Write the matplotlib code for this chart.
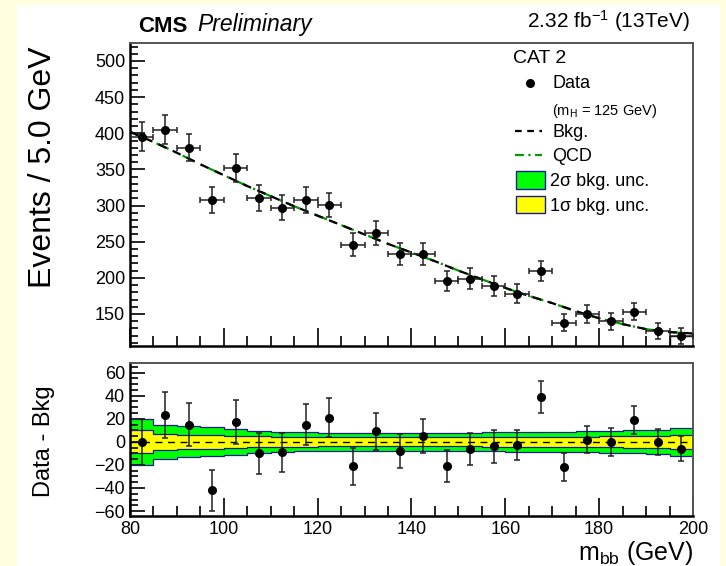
import numpy as np
import matplotlib.pyplot as plt
from matplotlib.patches import Rectangle
from matplotlib.lines import Line2D
from matplotlib.ticker import MultipleLocator

plt.rcParams['font.family'] = ['Liberation Sans', 'DejaVu Sans']
plt.rcParams['mathtext.fontset'] = 'custom'
plt.rcParams['mathtext.rm'] = 'Liberation Sans'
plt.rcParams['mathtext.it'] = 'Liberation Sans:italic'

# m_bb binning (5 GeV bins)
mbb_edges = [80, 85, 90, 95, 100, 105, 110, 115, 120, 125, 130, 135, 140,
             145, 150, 155, 160, 165, 170, 175, 180, 185, 190, 195, 200]

# observed events per bin and their uncertainties
events = [395, 405, 380, 308, 352, 310, 297, 308, 301, 246, 262, 233, 233,
          196, 199, 189, 178, 209, 138, 150, 140, 153, 127, 119]
events_err = [20, 20, 19, 18, 19, 18, 17, 18, 17, 16, 16, 15, 15,
              14, 14, 14, 13, 14, 12, 12, 12, 12, 11, 11]

# background fit evaluated at the bin edges
bkg_fit = [402, 388, 373, 357, 342, 327, 313, 299, 286, 273, 260, 247, 235,
           223, 210, 198, 186, 175, 165, 154, 144, 136, 129, 125, 123]

# data minus background
resid = [0, 23, 15, -42, 17, -10, -9, 15, 21, -21, 9, -8, 5,
         -21, -6, -4, -3, 39, -22, 2, 0, 19, 0, -6]

# background uncertainty bands per bin
unc_1sig = [10, 7.0, 6.3, 5.8, 5.2, 4.7, 4.4, 4.2, 4.0, 3.9, 3.9, 3.9, 3.9,
            4.0, 4.0, 4.1, 4.2, 4.3, 4.4, 4.6, 4.8, 5.0, 5.2, 6.0]
unc_2sig = [20, 15, 13.5, 12.5, 11, 9.7, 8.8, 8.3, 8.0, 7.8, 7.7, 7.7, 7.8,
            7.9, 8.0, 8.2, 8.4, 8.6, 8.8, 9.2, 9.6, 10.0, 10.4, 12.0]

W, H = 726, 566


def fx(px):
    return px / W


def fy(py):
    return 1 - py / H


edges = np.array(mbb_edges, dtype=float)
centers = 0.5 * (edges[:-1] + edges[1:])
halfw = 0.5 * (edges[1:] - edges[:-1])

fig = plt.figure(figsize=(W / 100, H / 100), dpi=100, facecolor='#ffffe0')
fig.add_artist(Rectangle((fx(17), 0), (720 - 17) / W, 561 / H,
                         transform=fig.transFigure, facecolor='white',
                         edgecolor='none', zorder=-5))

ax1 = fig.add_axes([fx(130), fy(346), (693 - 130) / W, (346 - 43) / H])
ax2 = fig.add_axes([fx(130), fy(516), (693 - 130) / W, (516 - 363) / H])


def style_axes(ax, xmaj, xmin, ymaj, ymin):
    ax.xaxis.set_major_locator(MultipleLocator(xmaj))
    ax.xaxis.set_minor_locator(MultipleLocator(xmin))
    ax.yaxis.set_major_locator(MultipleLocator(ymaj))
    ax.yaxis.set_minor_locator(MultipleLocator(ymin))
    ax.tick_params(which='both', direction='in', top=False, right=False,
                   labelsize=13, width=1.2, color='black')
    ax.tick_params(which='major', length=11)
    ax.tick_params(which='minor', length=5.5)
    ax.tick_params(axis='x', which='major', length=13)
    ax.tick_params(axis='x', which='minor', length=7)
    for side in ('left', 'bottom'):
        ax.spines[side].set_linewidth(1.8)
        ax.spines[side].set_color('black')
    for side in ('top', 'right'):
        ax.spines[side].set_linewidth(1.4)
        ax.spines[side].set_color('#555555')


# upper panel: data and background fit
style_axes(ax1, 20, 5, 50, 10)
ax1.set_xlim(80, 200)
ax1.set_ylim(105.7, 524.9)
ax1.tick_params(axis='x', labelbottom=False)
ax1.plot(edges, bkg_fit, color='#009900', lw=1.6, ls=(0, (6, 3, 1, 3)))
ax1.plot(edges, bkg_fit, color='black', lw=1.6, ls=(0, (4, 3)))
ax1.errorbar(centers, events, xerr=halfw, yerr=events_err, fmt='o',
             ms=5.5, color='black', ecolor='#222222', elinewidth=1.1,
             capsize=2, capthick=1.1, zorder=5)
ax1.plot([edges[-2], edges[-2], edges[-1]], [105.7, events[-1], events[-1]],
         color='black', lw=1.0)

# lower panel: residuals with uncertainty bands
style_axes(ax2, 20, 5, 20, 5)
ax2.set_xlim(80, 200)
ax2.set_ylim(-64.3, 68.3)
s1 = np.append(unc_1sig, unc_1sig[-1])
s2 = np.append(unc_2sig, unc_2sig[-1])
ax2.fill_between(edges, -s2, s2, step='post', color='#00ff00', lw=0)
ax2.fill_between(edges, -s1, s1, step='post', color='#ffff00', lw=0)
for band in (s2, -s2, s1, -s1):
    ax2.step(edges, band, where='post', color='#1a1aa0', lw=0.9)
ax2.axhline(0, color='black', lw=1.0, ls=(0, (5, 4)))
ax2.errorbar(centers, resid, yerr=events_err, fmt='o', ms=5.5,
             color='black', ecolor='#222222', elinewidth=1.1, capsize=2,
             capthick=1.1, zorder=5)

# axis titles
fig.text(fx(43), fy(47), 'Events / 5.0 GeV', rotation=90, ha='center',
         va='top', fontsize=23)
fig.text(fx(44), fy(385), 'Data - Bkg', rotation=90, ha='center',
         va='top', fontsize=17)
fig.text(fx(693), fy(560), r'm$_{\mathrm{bb}}$ (GeV)', ha='right',
         va='baseline', fontsize=18)

# header
fig.text(fx(138), fy(31.5), 'CMS', fontweight='bold', fontsize=16,
         va='baseline')
fig.text(fx(197), fy(31.5), 'Preliminary', style='italic', fontsize=16.5,
         va='baseline')
fig.text(fx(690), fy(28), r'2.32 fb$^{-1}$ (13TeV)', ha='right',
         va='baseline', fontsize=15)

# legend
fig.text(fx(513), fy(63), 'CAT 2', fontsize=14, va='baseline')
fig.add_artist(Line2D([fx(530)], [fy(83)], marker='o', ms=5.5,
                      color='black', transform=fig.transFigure))
fig.text(fx(552), fy(88), 'Data', fontsize=13, va='baseline')
fig.text(fx(552), fy(115), r'(m$_{\mathrm{H}}$ = 125 GeV)', fontsize=10.5,
         va='baseline')
fig.add_artist(Line2D([fx(515), fx(542)], [fy(131), fy(131)], color='black',
                      lw=1.6, ls=(0, (3, 2.5)), transform=fig.transFigure))
fig.text(fx(552), fy(137), 'Bkg.', fontsize=13, va='baseline')
fig.add_artist(Line2D([fx(515), fx(542)], [fy(155), fy(155)],
                      color='#009900', lw=1.6, ls=(0, (4, 2, 1, 2)),
                      transform=fig.transFigure))
fig.text(fx(552), fy(161), 'QCD', fontsize=13, va='baseline')
fig.add_artist(Rectangle((fx(516), fy(189)), 29 / W, 18 / H,
                         transform=fig.transFigure, facecolor='#00ff00',
                         edgecolor='#1a1aa0', lw=1))
fig.text(fx(550), fy(186), '2σ bkg. unc.', fontsize=13, va='baseline')
fig.add_artist(Rectangle((fx(516), fy(213)), 29 / W, 17 / H,
                         transform=fig.transFigure, facecolor='#ffff00',
                         edgecolor='#1a1aa0', lw=1))
fig.text(fx(550), fy(211), '1σ bkg. unc.', fontsize=13, va='baseline')

fig.savefig('out.png', dpi=100, facecolor=fig.get_facecolor())
